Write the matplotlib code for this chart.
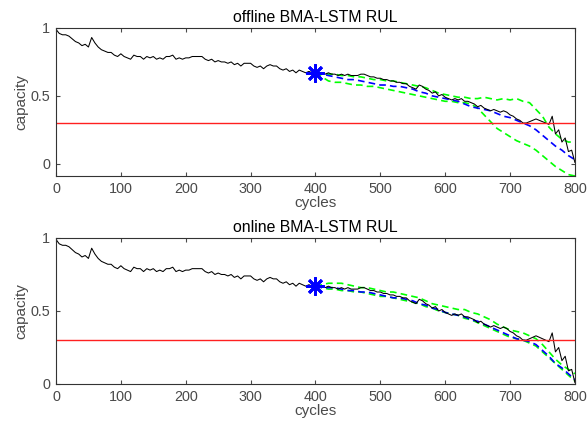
import numpy as np
import matplotlib
matplotlib.use("Agg")
import matplotlib.pyplot as plt

plt.rcParams['font.family'] = ['Liberation Sans', 'DejaVu Sans']

# measured capacity, every 5 cycles from 0 to 800
cyc = list(range(0, 801, 5))
cap = [0.99, 0.96, 0.95, 0.95, 0.94, 0.92, 0.90, 0.89, 0.87, 0.88,
       0.86, 0.93, 0.89, 0.86, 0.84, 0.83, 0.82, 0.82, 0.80, 0.79,
       0.81, 0.79, 0.78, 0.77, 0.80, 0.79, 0.79, 0.77, 0.79, 0.78,
       0.79, 0.77, 0.78, 0.77, 0.79, 0.79, 0.80, 0.77, 0.78, 0.77,
       0.78, 0.78, 0.79, 0.79, 0.79, 0.79, 0.77, 0.76, 0.77, 0.75,
       0.76, 0.75, 0.75, 0.74, 0.75, 0.73, 0.74, 0.72, 0.74, 0.74,
       0.74, 0.72, 0.71, 0.72, 0.70, 0.72, 0.73, 0.72, 0.72, 0.70,
       0.69, 0.70, 0.68, 0.69, 0.67, 0.69, 0.68, 0.67, 0.68, 0.67,
       0.67, 0.66, 0.67, 0.66, 0.67, 0.66, 0.66, 0.65, 0.66, 0.65,
       0.66, 0.65, 0.65, 0.65, 0.66, 0.66, 0.65, 0.64, 0.64, 0.63,
       0.63, 0.62, 0.62, 0.61, 0.61, 0.60, 0.60, 0.59, 0.59, 0.57,
       0.56, 0.55, 0.58, 0.57, 0.55, 0.54, 0.52, 0.53, 0.50, 0.51,
       0.49, 0.48, 0.47, 0.48, 0.47, 0.48, 0.46, 0.46, 0.45, 0.44,
       0.42, 0.43, 0.41, 0.40, 0.39, 0.40, 0.39, 0.38, 0.39, 0.38,
       0.36, 0.35, 0.33, 0.32, 0.30, 0.30, 0.31, 0.32, 0.33, 0.32,
       0.31, 0.30, 0.29, 0.35, 0.22, 0.25, 0.16, 0.19, 0.09, 0.10,
       0.01]

threshold = 0.3
start_cycle, start_cap = 400, 0.67

# predictions, every 10 cycles from 400 to 800
pcyc = list(range(400, 801, 10))
off_mean = [0.67, 0.66, 0.65, 0.64, 0.63, 0.62, 0.62, 0.61, 0.60, 0.59,
            0.58, 0.58, 0.57, 0.57, 0.56, 0.55, 0.53, 0.52, 0.50, 0.49,
            0.48, 0.47, 0.46, 0.44, 0.42, 0.41, 0.40, 0.39, 0.37, 0.35,
            0.34, 0.32, 0.30, 0.28, 0.25, 0.21, 0.17, 0.13, 0.10, 0.06, 0.03]
off_up = [0.67, 0.67, 0.66, 0.66, 0.65, 0.65, 0.64, 0.64, 0.63, 0.62,
          0.62, 0.61, 0.61, 0.60, 0.59, 0.58, 0.57, 0.56, 0.54, 0.52,
          0.51, 0.50, 0.49, 0.49, 0.48, 0.48, 0.49, 0.48, 0.47, 0.48,
          0.47, 0.48, 0.46, 0.45, 0.40, 0.35, 0.27, 0.22, 0.18, 0.16, 0.16]
off_lo = [0.67, 0.64, 0.61, 0.60, 0.60, 0.59, 0.58, 0.58, 0.57, 0.57,
          0.56, 0.55, 0.54, 0.53, 0.52, 0.51, 0.50, 0.49, 0.48, 0.47,
          0.46, 0.46, 0.45, 0.45, 0.44, 0.41, 0.36, 0.31, 0.26, 0.23,
          0.20, 0.17, 0.15, 0.13, 0.10, 0.06, 0.02, -0.02, -0.05, -0.08, -0.09]

on_mean = [0.67, 0.66, 0.66, 0.66, 0.65, 0.64, 0.64, 0.63, 0.63, 0.62,
           0.61, 0.60, 0.59, 0.59, 0.58, 0.57, 0.55, 0.54, 0.52, 0.51,
           0.49, 0.48, 0.47, 0.46, 0.44, 0.43, 0.41, 0.39, 0.37, 0.35,
           0.33, 0.31, 0.30, 0.29, 0.27, 0.23, 0.19, 0.14, 0.11, 0.07, 0.03]
on_up = [0.67, 0.68, 0.69, 0.69, 0.69, 0.68, 0.67, 0.66, 0.66, 0.65,
         0.64, 0.63, 0.63, 0.62, 0.61, 0.60, 0.59, 0.57, 0.55, 0.54,
         0.53, 0.52, 0.51, 0.51, 0.49, 0.48, 0.46, 0.44, 0.41, 0.39,
         0.37, 0.36, 0.35, 0.33, 0.31, 0.27, 0.22, 0.17, 0.13, 0.10, 0.07]
on_lo = [0.67, 0.66, 0.65, 0.65, 0.64, 0.64, 0.63, 0.63, 0.62, 0.61,
         0.60, 0.60, 0.59, 0.58, 0.57, 0.56, 0.55, 0.53, 0.52, 0.50,
         0.49, 0.48, 0.47, 0.45, 0.44, 0.42, 0.40, 0.38, 0.36, 0.34,
         0.32, 0.31, 0.30, 0.28, 0.26, 0.22, 0.18, 0.14, 0.10, 0.06, 0.02]

GREY = "#4a4a4a"
fig = plt.figure(figsize=(5.87, 4.21), dpi=100)
ax1 = fig.add_axes([0.0954, 0.582, 0.884, 0.3515])
ax2 = fig.add_axes([0.0954, 0.0879, 0.884, 0.3468])

panels = [(ax1, "offline BMA-LSTM RUL", off_mean, off_up, off_lo, (-0.09, 1)),
          (ax2, "online BMA-LSTM RUL", on_mean, on_up, on_lo, (0, 1))]
for ax, ttl, mean, up, lo, yl in panels:
    dash = dict(ls=(0, (4, 2.5)), lw=1.2)
    ax.plot(pcyc, up, color="#00ff00", **dash)
    ax.plot(pcyc, lo, color="#00ff00", **dash)
    ax.plot(pcyc, mean, color="#0000ff", **dash)
    ax.plot(cyc, cap, "-", color="k", lw=0.75)
    ax.axhline(threshold, color="#ff2020", lw=1)
    ax.plot([start_cycle], [start_cap], marker=(8, 2, 0), color="#0000ff",
            ms=13, mew=2, ls="none")
    ax.set_xlim(0, 800); ax.set_ylim(*yl)
    ax.set_xticks(range(0, 801, 100)); ax.set_yticks([0, 0.5, 1])
    ax.set_yticklabels(["0", "0.5", "1"])
    ax.tick_params(direction="in", top=True, right=True, labelsize=10.4,
                   colors=GREY, length=3, width=0.8, pad=4)
    for s in ax.spines.values():
        s.set_color("#333333"); s.set_linewidth(0.8)
    ax.set_title(ttl, fontsize=11.4, pad=4)
    ax.set_xlabel("cycles", fontsize=11, color=GREY, labelpad=0)
    ax.set_ylabel("capacity", fontsize=11, color=GREY, labelpad=2)

fig.savefig("out.png", dpi=100)
